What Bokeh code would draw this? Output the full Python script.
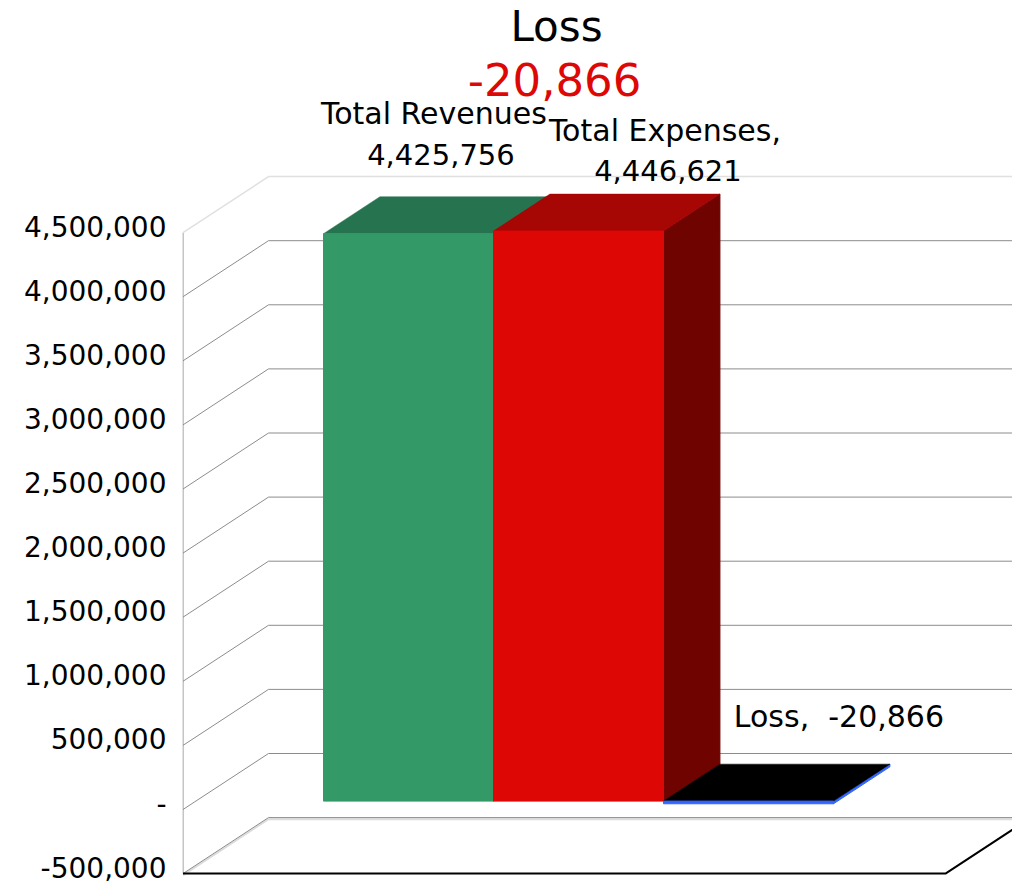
from bokeh.plotting import figure
from bokeh.embed import file_html
from bokeh.resources import INLINE
from bokeh.models import Range1d, FixedTicker, NumeralTickFormatter, LinearAxis
from bokeh.core.properties import value

# ---- chart data ----
categories = ["Total Revenues", "Total Expenses", "Loss"]
values = [4425756, 4446621, -20866]
front_colors = ["#339966", "#DD0806", "#3366FF"]
top_colors = ["#267350", "#A60604", "#000000"]
side_colors = ["#1A4D33", "#6F0300", "#3366FF"]
tick_values = [-500000, 0, 500000, 1000000, 1500000, 2000000, 2500000, 3000000, 3500000, 4000000, 4500000]
title_text = "Loss"

# ---- layout ----
FONT = "DejaVu Sans"
W, H = 1012, 884
LEFT = 182
PX_X = 170.0              # pixels per category
PX_Y = 64.1 / 500000.0    # pixels per unit of value
x_start = -0.754
x_end = x_start + (W - LEFT) / PX_X
y_start = -(884 - 809) / PX_Y
y_end = 809 / PX_Y
floor_left, floor_right = -0.751, 3.734
DX = 85.5 / PX_X          # depth of the box, in x units
DY = 56.0 / PX_Y          # depth of the box, in value units
Z0, Z1 = 0.15, 0.81       # front and back of the bars, as a share of the depth
LABEL_LIFT = 6.5 / PX_Y   # tick labels sit slightly above their gridlines


def proj(x, v, z):
    return x + z * DX, v + z * DY


p = figure(width=W, height=H, output_backend="svg", toolbar_location=None,
           x_range=Range1d(x_start, x_end), y_range=Range1d(y_start, y_end),
           x_axis_location=None, y_axis_location=None, min_border_left=LEFT, min_border_right=0,
           min_border_top=0, min_border_bottom=0, outline_line_color=None,
           background_fill_color="white", border_fill_color="white")
p.grid.visible = False
p.extra_y_ranges = {"labels": Range1d(y_start - LABEL_LIFT, y_end - LABEL_LIFT)}

# y axis labels
ax = LinearAxis(y_range_name="labels")
ax.ticker = FixedTicker(ticks=tick_values)
ax.formatter = NumeralTickFormatter(format="0,0")
ax.major_label_overrides = {0: "-"}
ax.axis_line_color = None
ax.major_tick_line_color = None
ax.minor_tick_line_color = None
ax.major_tick_out = 0
ax.major_label_standoff = 16
ax.major_label_text_font = FONT
ax.major_label_text_font_size = "28px"
ax.major_label_text_color = "#000000"
p.add_layout(ax, "left")

# front edge of the side wall
p.line([floor_left, floor_left], [min(tick_values), max(tick_values)],
       line_color="#8C8C8C", line_width=1)

# walls: a diagonal on the side wall, then a line along the back wall
for t in tick_values:
    x0, y0 = proj(floor_left, t, 0)
    x1, y1 = proj(floor_left, t, 1)
    x2, y2 = proj(floor_right, t, 1)
    if t == max(tick_values):
        p.line([x0, x1, x2], [y0, y1, y2], line_color="#E0E0E0", line_width=1.5)
    else:
        if t == min(tick_values):
            p.line([x0, x1, x2], [y0 - 12000, y1 - 12000, y2 - 12000], line_color="#DCDCDC", line_width=2)
        p.line([x0, x1, x2], [y0, y1, y2], line_color="#8C8C8C", line_width=1)

# floor
fl = min(tick_values)
xa, ya = proj(floor_left, fl, 0)
xb, yb = proj(floor_right, fl, 0)
xc, yc = proj(floor_right, fl, 1)
p.line([xa, xb, xc], [ya, yb, yc], line_color="#000000", line_width=2)

# bars
for i, v in enumerate(values):
    hi, lo = max(v, 0), min(v, 0)
    x0, x1 = float(i), float(i + 1)
    fx = [proj(x0, lo, Z0)[0], proj(x1, lo, Z0)[0], proj(x1, hi, Z0)[0], proj(x0, hi, Z0)[0]]
    fy = [proj(x0, lo, Z0)[1], proj(x1, lo, Z0)[1], proj(x1, hi, Z0)[1], proj(x0, hi, Z0)[1]]
    tx = [proj(x0, hi, Z0)[0], proj(x1, hi, Z0)[0], proj(x1, hi, Z1)[0], proj(x0, hi, Z1)[0]]
    ty = [proj(x0, hi, Z0)[1], proj(x1, hi, Z0)[1], proj(x1, hi, Z1)[1], proj(x0, hi, Z1)[1]]
    sx = [proj(x1, lo, Z0)[0], proj(x1, lo, Z1)[0], proj(x1, hi, Z1)[0], proj(x1, hi, Z0)[0]]
    sy = [proj(x1, lo, Z0)[1], proj(x1, lo, Z1)[1], proj(x1, hi, Z1)[1], proj(x1, hi, Z0)[1]]
    p.patch(sx, sy, fill_color=side_colors[i], line_color=side_colors[i], line_width=1)
    p.patch(tx, ty, fill_color=top_colors[i], line_color=top_colors[i], line_width=0.5)
    p.patch(fx, fy, fill_color=front_colors[i], line_color=front_colors[i], line_width=1)


def put(x, y, text, size, color="#000000", dx=0, dy=0):
    p.text([x], [y], text=[text], text_font=value(FONT), text_font_size=size,
           text_color=color, text_align="center", text_baseline="middle",
           x_offset=dx, y_offset=dy)


# data labels, anchored on the top centre of each bar
for i, (c, v) in enumerate(zip(categories, values)):
    ax_x, ax_y = proj(i + 0.5, max(v, 0), Z1)
    if i == 0:
        put(ax_x, ax_y, c, "30px", dx=-31, dy=-83)
        put(ax_x, ax_y, f"{v:,}", "29px", dx=-24, dy=-42)
    elif i == 1:
        put(ax_x, ax_y, c + ",", "30px", dx=30, dy=-64)
        put(ax_x, ax_y, f"{v:,}", "29px", dx=33, dy=-24)
    else:
        put(ax_x, ax_y, f"{c},\u00a0\u00a0{v:,}", "30px", dx=34, dy=-48)

# headline
cx = (556 - LEFT) / PX_X + x_start
put(cx, (809 - 26) / PX_Y, title_text, "42px")
put(cx, (809 - 79) / PX_Y, f"{values[2]:,}", "45px", color="#DD0806", dx=-2)

open("out.html", "w").write(file_html(p, INLINE))
